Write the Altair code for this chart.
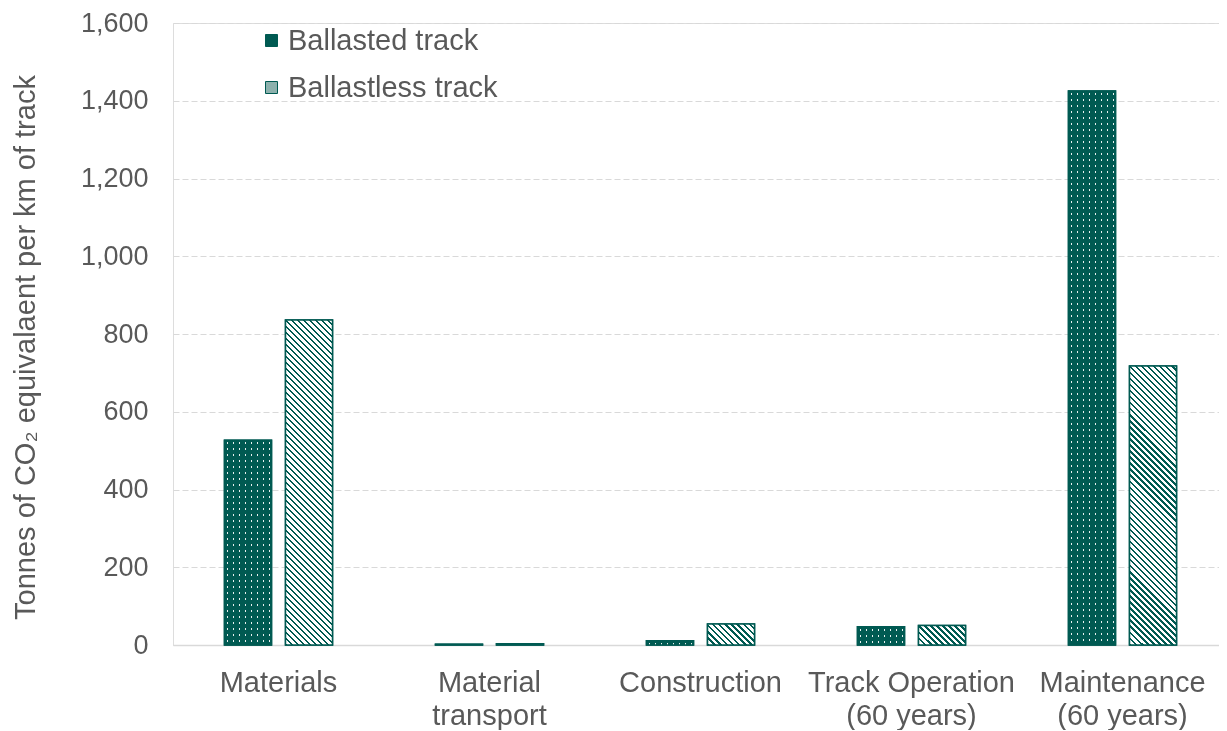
import math
import altair as alt
import pandas as pd

categories = ["Materials", "Material\ntransport", "Construction",
              "Track Operation\n(60 years)", "Maintenance\n(60 years)"]
series = ["Ballasted track", "Ballastless track"]
ballasted = [527, 2, 11, 47, 1425]
ballastless = [836, 3, 54, 50, 718]
y_ticks = [0, 200, 400, 600, 800, 1000, 1200, 1400, 1600]

TEAL = "#005A52"
WHITE = "#ffffff"
DOT = "#e8f0ef"
GREY = "#595959"
FONT = "Liberation Sans"
W, H = 1046, 622
X_RANGE = 1055
YMAX = 1600
BAR_W = 47.0
STRIPE = 6.0
FRAC = 0.4
DOT_PX = 6.0
DOT_FRAC = 0.3

rows = []
for i, (c, a, b) in enumerate(zip(categories, ballasted, ballastless)):
    rows.append({"idx": i, "cat": c, "series": series[0], "value": a})
    rows.append({"idx": i, "cat": c, "series": series[1], "value": b})
df = pd.DataFrame(rows)


def stripes(h, w=BAR_W):
    h = max(h, 0.5)
    s = (w + h) * w / (w * w + h * h)
    n = max(1, int(round((w + h) / STRIPE)))
    stops = []
    for i in range(n):
        a = i / n
        b = (i + FRAC) / n
        c = (i + 1) / n
        stops += [
            alt.GradientStop(offset=a, color=TEAL),
            alt.GradientStop(offset=b, color=TEAL),
            alt.GradientStop(offset=b, color=WHITE),
            alt.GradientStop(offset=c, color=WHITE),
        ]
    return alt.LinearGradient(gradient="linear", stops=stops,
                              x1=0, y1=1, x2=s, y2=1 - s * h / w)


def bands(length, horizontal):
    # whole-pixel period: the gradient runs over n * DOT_PX pixels
    n = max(1, int(math.ceil(length / DOT_PX)))
    span = n * DOT_PX / max(length, 0.5)
    stops = []
    for i in range(n):
        a = i / n
        b = (i + 0.5 - DOT_FRAC / 2) / n
        c = (i + 0.5 + DOT_FRAC / 2) / n
        d = (i + 1) / n
        stops += [
            alt.GradientStop(offset=a, color=TEAL),
            alt.GradientStop(offset=b, color=TEAL),
            alt.GradientStop(offset=b, color=DOT),
            alt.GradientStop(offset=c, color=DOT),
            alt.GradientStop(offset=c, color=TEAL),
            alt.GradientStop(offset=d, color=TEAL),
        ]
    if horizontal:
        return alt.LinearGradient(gradient="linear", stops=stops, x1=0, y1=0, x2=span, y2=0)
    return alt.LinearGradient(gradient="linear", stops=stops, x1=0, y1=0, x2=0, y2=span)


x_enc = alt.X(
    "cat:N", sort=categories,
    scale=alt.Scale(domain=categories, range=[0, X_RANGE],
                    paddingInner=0.488, paddingOuter=0.244),
    axis=alt.Axis(title=None, labelExpr="split(datum.label, '\\n')",
                  labelAngle=0, labelFontSize=29, labelColor=GREY, labelFont=FONT,
                  labelPadding=23, labelLineHeight=33, labelLimit=0, ticks=False,
                  domain=True, domainColor="#d9d9d9", domainWidth=1.5, grid=False),
)
xo_enc = alt.XOffset("series:N", sort=series,
                     scale=alt.Scale(domain=series, paddingInner=0.2295, paddingOuter=0))
y_enc = alt.Y(
    "value:Q",
    scale=alt.Scale(domain=[0, YMAX], nice=False),
    axis=alt.Axis(title="Tonnes of CO₂ equivalaent per km of track", values=y_ticks,
                  format=",.0f", grid=True, gridDash=[6, 3], gridColor="#d9d9d9",
                  gridWidth=1, domain=False, ticks=False, labelPadding=25,
                  labelFontSize=27, labelColor=GREY, labelFont=FONT, labelLimit=0,
                  titleFontSize=29, titleColor=GREY, titleFont=FONT, titleLimit=0,
                  titleFontWeight="normal", titleX=-148, titleY=324,
                  titleBaseline="middle"),
)

base = alt.Chart(df).mark_bar(stroke=TEAL, strokeWidth=1.5).encode(
    x=x_enc, xOffset=xo_enc, y=y_enc,
    fill=alt.Fill("series:N", sort=series,
                  scale=alt.Scale(domain=series, range=[TEAL, "#8db1ad"]),
                  legend=alt.Legend(title=None, orient="none", legendX=84, legendY=3,
                                    symbolType="square", symbolSize=144,
                                    symbolStrokeColor=TEAL, symbolStrokeWidth=1,
                                    labelFontSize=29, labelColor=GREY, labelFont=FONT,
                                    labelLimit=0, rowPadding=17, labelOffset=2)),
)

layers = [base]

# ballasted: dotted texture (vertical light bands, darkened by horizontal light bands)
layers.append(
    alt.Chart(df)
    .transform_filter(f"datum.series == '{series[0]}'")
    .mark_bar(fill=bands(BAR_W, True), stroke=TEAL, strokeWidth=1.5)
    .encode(x=x_enc, xOffset=xo_enc, y=y_enc)
)
for i, v in enumerate(ballasted):
    h = v / YMAX * H
    if h < 3:
        continue
    layers.append(
        alt.Chart(df)
        .transform_filter(f"datum.idx == {i} && datum.series == '{series[0]}'")
        .mark_bar(fill=bands(h, False), strokeWidth=0, blend="darken")
        .encode(x=x_enc, xOffset=xo_enc, y=y_enc)
    )

# ballastless: diagonal stripes
for i, v in enumerate(ballastless):
    h = v / YMAX * H
    layers.append(
        alt.Chart(df)
        .transform_filter(f"datum.idx == {i} && datum.series == '{series[1]}'")
        .mark_bar(fill=stripes(h), stroke=TEAL, strokeWidth=1.5)
        .encode(x=x_enc, xOffset=xo_enc, y=y_enc)
    )

chart = alt.layer(*layers).properties(
    width=W, height=H,
    autosize=alt.AutoSizeParams(type="none"),
    padding={"left": 165, "top": 15, "right": 0, "bottom": 85},
).configure_view(stroke=None).configure(font=FONT)

chart.save("out.html", embed_options={"renderer": "svg", "actions": False})
